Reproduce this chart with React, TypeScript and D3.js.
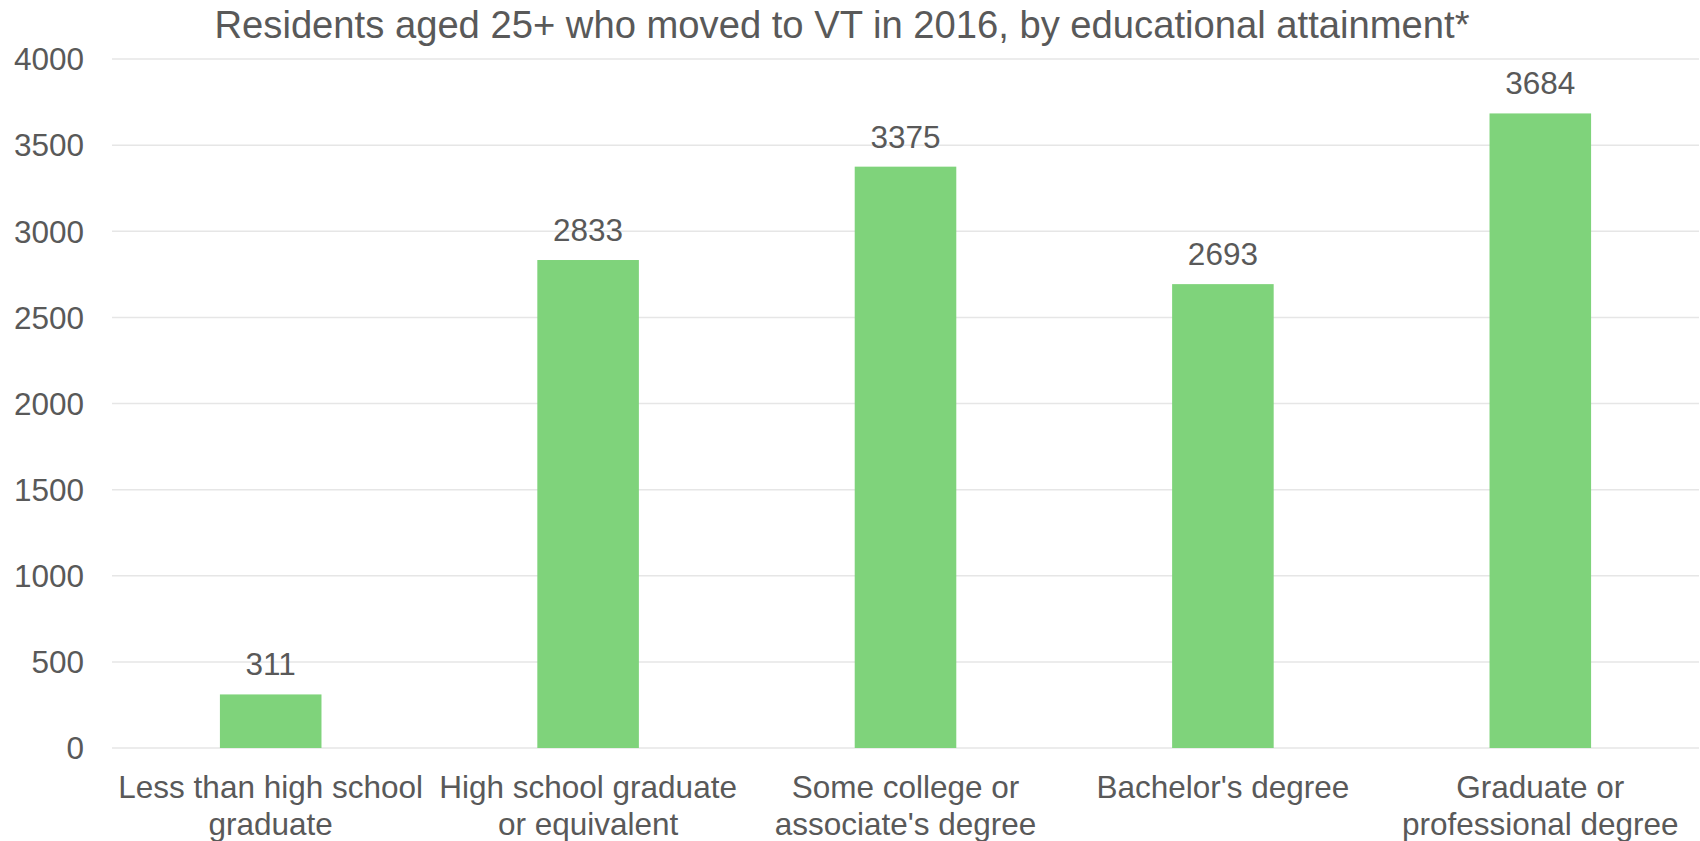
import React from "react";
import * as d3 from "d3";

const categories: string[][] = [
  ["Less than high school", "graduate"],
  ["High school graduate", "or equivalent"],
  ["Some college or", "associate's degree"],
  ["Bachelor's degree"],
  ["Graduate or", "professional degree"],
];
const values: number[] = [311, 2833, 3375, 2693, 3684];
const yTicks: number[] = [0, 500, 1000, 1500, 2000, 2500, 3000, 3500, 4000];
const title = "Residents aged 25+ who moved to VT in 2016, by educational attainment*";

const W = 1700;
const H = 841;
const left = 112;
const right = 1699;
const top = 59;
const bottom = 748;
const font = "'Liberation Sans', Arial, sans-serif";
const textColor = "#595959";

export default function App() {
  const x = d3
    .scaleBand<number>()
    .domain(values.map((_, i) => i))
    .range([left, right])
    .paddingInner(0.68)
    .paddingOuter(0.34);
  const y = d3.scaleLinear().domain([0, 4000]).range([bottom, top]);

  return (
    <svg
      width={W}
      height={H}
      style={{ position: "absolute", left: 0, top: 0, background: "#fff" }}
      fontFamily={font}
    >
      <text x={842} y={38} textAnchor="middle" fontSize={38.2} fill={textColor}>
        {title}
      </text>
      {yTicks.map((t) => (
        <g key={t}>
          <line x1={left} x2={right} y1={y(t)} y2={y(t)} stroke="#e6e6e6" strokeWidth={1.5} />
          <text x={84} y={y(t)} dy="0.36em" textAnchor="end" fontSize={31.5} fill={textColor}>
            {t}
          </text>
        </g>
      ))}
      {values.map((v, i) => (
        <g key={i}>
          <rect
            x={x(i)}
            y={y(v)}
            width={x.bandwidth()}
            height={y(0) - y(v)}
            fill="#7fd37b"
          />
          <text
            x={(x(i) as number) + x.bandwidth() / 2}
            y={y(v) - 19}
            textAnchor="middle"
            fontSize={31.5}
            fill={textColor}
          >
            {v}
          </text>
          {categories[i].map((line, j) => (
            <text
              key={j}
              x={(x(i) as number) + x.bandwidth() / 2}
              y={798 + j * 37}
              textAnchor="middle"
              fontSize={31.5}
              fill={textColor}
            >
              {line}
            </text>
          ))}
        </g>
      ))}
    </svg>
  );
}
